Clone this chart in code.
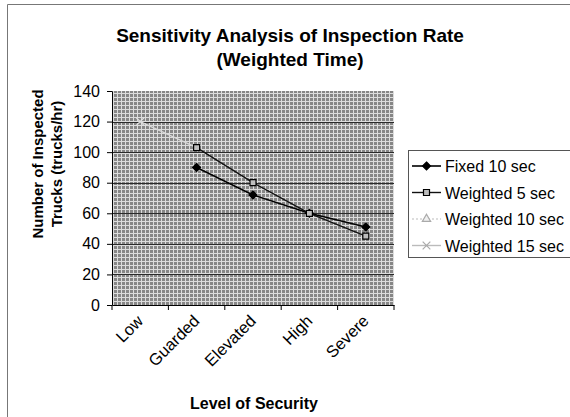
<!DOCTYPE html>
<html>
<head>
<meta charset="utf-8">
<script src="https://cdn.jsdelivr.net/npm/d3@7"></script>
<style>
  body { margin: 0; background: #fff; }
  svg { font-family: "Liberation Sans", Arial, sans-serif; }
</style>
</head>
<body>
<div id="container"></div>
<script>
const categories = ['Low', 'Guarded', 'Elevated', 'High', 'Severe'];
const seriesNames = ['Fixed 10 sec', 'Weighted 5 sec', 'Weighted 10 sec', 'Weighted 15 sec'];
const fixed10 = [null, 90, 72, 60, 51];
const weighted5 = [null, 103, 80, 60, 45];
const weighted10 = [null, 90, null, null, null];
const weighted15 = [120, 103, null, null, null];
const yTicks = [0, 20, 40, 60, 80, 100, 120, 140];

const width = 570;
const height = 417;
const plot = { left: 112, top: 91, right: 394, bottom: 305 };

const svg = d3
  .select('#container')
  .append('svg')
  .attr('width', width)
  .attr('height', height);

// scanned grey fill of the plot area
const defs = svg.append('defs');
const pat = defs
  .append('pattern')
  .attr('id', 'scan')
  .attr('width', 4)
  .attr('height', 4)
  .attr('patternUnits', 'userSpaceOnUse');
pat.append('rect').attr('width', 4).attr('height', 4).attr('fill', '#868686');
pat.append('rect').attr('x', 0).attr('y', 1).attr('width', 4).attr('height', 1).attr('fill', '#dcdcdc');
pat.append('rect').attr('x', 1).attr('y', 0).attr('width', 1).attr('height', 4).attr('fill', '#dcdcdc');

// outer chart border (only top and left are in frame)
svg.append('path')
  .attr('d', 'M7.5,' + height + 'V4.5H' + width)
  .attr('fill', 'none')
  .attr('stroke', '#777')
  .attr('stroke-width', 1);

const xScale = d3
  .scaleBand()
  .domain(categories)
  .range([plot.left, plot.right]);

const yScale = d3
  .scaleLinear()
  .domain([0, 140])
  .range([plot.bottom, plot.top]);

svg.append('rect')
  .attr('x', plot.left)
  .attr('y', plot.top)
  .attr('width', plot.right - plot.left)
  .attr('height', plot.bottom - plot.top)
  .attr('fill', 'url(#scan)');

// gridlines
svg.append('g')
  .selectAll('line')
  .data(yTicks.filter(d => d > 0 && d < 140))
  .enter()
  .append('line')
  .attr('x1', plot.left)
  .attr('x2', plot.right)
  .attr('y1', d => Math.round(yScale(d)) + 0.5)
  .attr('y2', d => Math.round(yScale(d)) + 0.5)
  .attr('stroke', '#2a2a2a')
  .attr('stroke-width', 1);

// y axis
const yAxis = d3
  .axisLeft(yScale)
  .tickValues(yTicks)
  .tickSizeInner(5)
  .tickSizeOuter(0)
  .tickPadding(7);
const yAxisSvg = svg
  .append('g')
  .attr('transform', 'translate(' + plot.left + ',0)')
  .call(yAxis);
yAxisSvg.selectAll('text')
  .style('font-size', '16px')
  .attr('fill', '#000');
yAxisSvg.selectAll('line, path').attr('stroke', '#000');

// x axis, ticks between categories
const xAxis = d3
  .axisBottom(xScale)
  .tickSize(0)
  .tickFormat('');
const xAxisSvg = svg
  .append('g')
  .attr('transform', 'translate(0,' + plot.bottom + ')')
  .call(xAxis);
xAxisSvg.select('path').attr('stroke', '#000');
xAxisSvg.append('g')
  .selectAll('line')
  .data(categories.concat(['end']))
  .enter()
  .append('line')
  .attr('x1', (d, i) => plot.left + i * xScale.step())
  .attr('x2', (d, i) => plot.left + i * xScale.step())
  .attr('y1', 0)
  .attr('y2', 5)
  .attr('stroke', '#000');

svg.append('g')
  .selectAll('text')
  .data(categories)
  .enter()
  .append('text')
  .attr('text-anchor', 'end')
  .attr('transform', d => 'translate(' + (xScale(d) + xScale.bandwidth() / 2 + 4) + ',' + (plot.bottom + 17) + ') rotate(-45)')
  .style('font-size', '16.5px')
  .text(d => d);

// titles
const title = svg.append('text')
  .attr('text-anchor', 'middle')
  .style('font-size', '19px')
  .style('font-weight', 'bold');
title.append('tspan').attr('x', 290).attr('y', 42).text('Sensitivity Analysis of Inspection Rate');
title.append('tspan').attr('x', 290).attr('y', 66).text('(Weighted Time)');

const yTitle = svg.append('text')
  .attr('text-anchor', 'middle')
  .attr('transform', 'translate(43,164) rotate(-90)')
  .style('font-size', '15px')
  .style('font-weight', 'bold');
yTitle.append('tspan').attr('x', 0).attr('y', 0).text('Number of Inspected');
yTitle.append('tspan').attr('x', 0).attr('y', 19).text('Trucks (trucks/hr)');

svg.append('text')
  .attr('text-anchor', 'middle')
  .attr('x', 254)
  .attr('y', 409)
  .style('font-size', '16px')
  .style('font-weight', 'bold')
  .text('Level of Security');

// series
const styles = [
  { data: fixed10, color: '#000', width: 1.6, dash: null, symbol: d3.symbolDiamond2, size: 40, fill: '#000', stroke: '#000' },
  { data: weighted5, color: '#111', width: 1.4, dash: null, symbol: d3.symbolSquare, size: 36, fill: '#bdbdbd', stroke: '#000' },
  { data: weighted10, color: '#e4e4e4', width: 1.2, dash: '2,2', symbol: d3.symbolTriangle, size: 30, fill: '#f0f0f0', stroke: '#ddd' },
  { data: weighted15, color: '#d8d8d8', width: 1.4, dash: null, symbol: d3.symbolX, size: 40, fill: 'none', stroke: '#e0e0e0' },
];

const line = d3
  .line()
  .defined(d => d.v !== null)
  .x(d => xScale(d.c) + xScale.bandwidth() / 2)
  .y(d => yScale(d.v));

const order = [3, 2, 0, 1];
order.forEach(i => {
  const s = styles[i];
  const pts = categories.map((c, j) => ({ c: c, v: s.data[j] }));
  svg.append('path')
    .datum(pts)
    .attr('d', line)
    .attr('fill', 'none')
    .attr('stroke', s.color)
    .attr('stroke-width', s.width)
    .attr('stroke-dasharray', s.dash);
  svg.append('g')
    .selectAll('path')
    .data(pts.filter(d => d.v !== null))
    .enter()
    .append('path')
    .attr('transform', d => 'translate(' + (xScale(d.c) + xScale.bandwidth() / 2) + ',' + yScale(d.v) + ')')
    .attr('d', d3.symbol().type(s.symbol).size(s.size)())
    .attr('fill', s.fill)
    .attr('stroke', s.stroke)
    .attr('stroke-width', 1.2);
});

// legend
const legend = svg.append('g');
legend.append('rect')
  .attr('x', 408.5)
  .attr('y', 150.5)
  .attr('width', 170)
  .attr('height', 107)
  .attr('fill', '#fff')
  .attr('stroke', '#555');
seriesNames.forEach((name, i) => {
  const s = styles[i];
  const y = 166 + i * 26.5;
  legend.append('line')
    .attr('x1', 412)
    .attr('x2', 441)
    .attr('y1', y)
    .attr('y2', y)
    .attr('stroke', i >= 2 ? '#bbb' : s.color)
    .attr('stroke-width', s.width)
    .attr('stroke-dasharray', s.dash);
  legend.append('path')
    .attr('transform', 'translate(426.5,' + y + ')')
    .attr('d', d3.symbol().type(s.symbol).size(s.size)())
    .attr('fill', s.fill)
    .attr('stroke', i >= 2 ? '#aaa' : s.stroke)
    .attr('stroke-width', 1.2);
  legend.append('text')
    .attr('x', 445)
    .attr('y', y + 6)
    .style('font-size', '16px')
    .text(name);
});
</script>
</body>
</html>
